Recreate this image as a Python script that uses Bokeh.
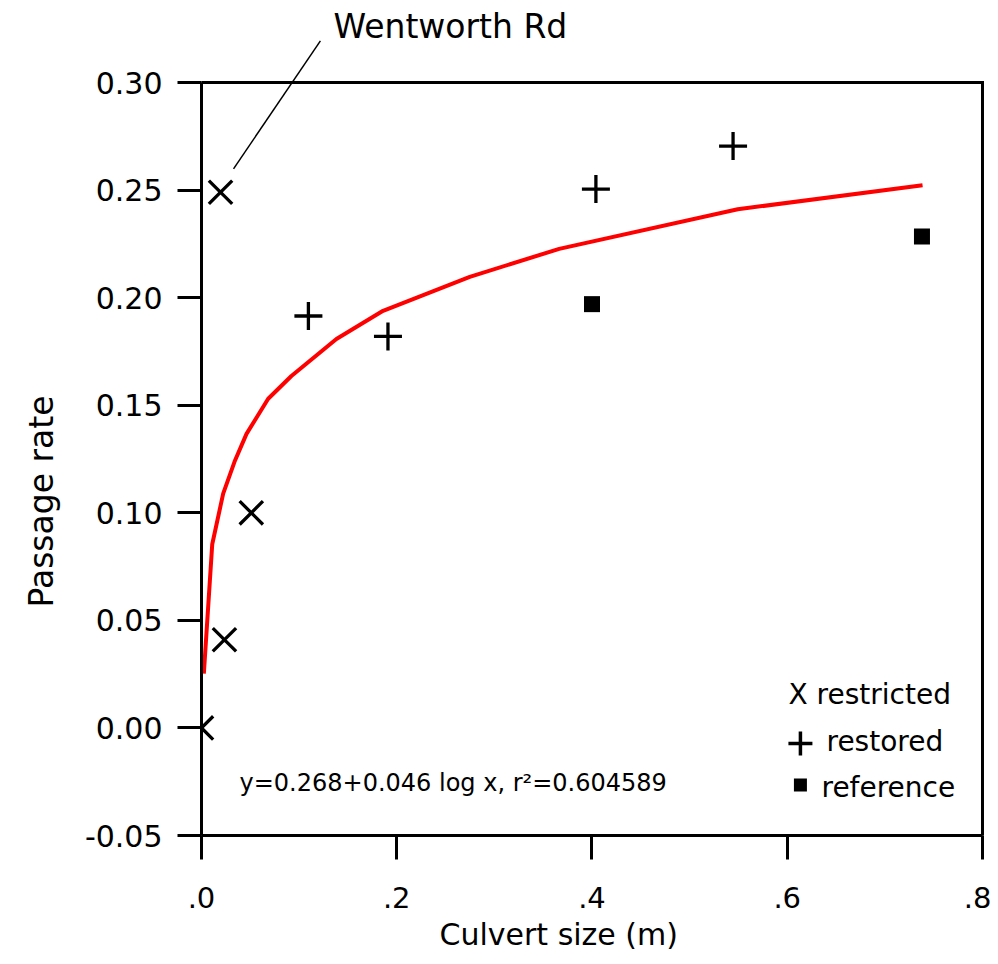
from bokeh.plotting import figure
from bokeh.models import Range1d, FixedTicker, Label, Title
from bokeh.embed import file_html
from bokeh.resources import INLINE

# ---- data ----
restricted_x = [0.0, 0.0235, 0.051, 0.0195]
restricted_y = [0.0, 0.041, 0.100, 0.249]
restored_x = [0.1095, 0.191, 0.404, 0.5445]
restored_y = [0.1915, 0.182, 0.2505, 0.2705]
reference_x = [0.400, 0.738]
reference_y = [0.197, 0.2285]

fit_x = [0.0024, 0.0110, 0.0222, 0.0338, 0.0461, 0.0683, 0.0921, 0.1382,
         0.1860, 0.2748, 0.3664, 0.5493, 0.7386]
fit_y = [0.0252, 0.0854, 0.1089, 0.1237, 0.1367, 0.1530, 0.1636, 0.1808,
         0.1939, 0.2097, 0.2227, 0.2411, 0.2523]

x_ticks = [0.0, 0.2, 0.4, 0.6, 0.8]
x_tick_labels = [".0", ".2", ".4", ".6", ".8"]
y_ticks = [-0.05, 0.0, 0.05, 0.10, 0.15, 0.20, 0.25, 0.30]
y_tick_labels = ["-0.05", "0.00", "0.05", "0.10", "0.15", "0.20", "0.25", "0.30"]

x_limits = (0.0, 0.8)
y_limits = (-0.05, 0.30)

x_title = "Culvert size (m)"
y_title = "Passage rate"
equation = "y=0.268+0.046 log x, r\u00b2=0.604589"
callout = "Wentworth Rd"
callout_from = (0.0328, 0.2599)
callout_to = (0.1218, 0.3194)
legend_labels = ["X restricted", "restored", "reference"]
legend_key_x = 0.6135
legend_key_y = [-0.0072, -0.0265]

FONT = "DejaVu Sans"

# the frame reaches a little above / right of the axis box so that the
# call-out line and its label can be drawn outside the box
p = figure(frame_width=789, frame_height=825,
           min_border_left=200, min_border_top=10,
           min_border_right=1, min_border_bottom=121,
           x_range=Range1d(x_limits[0], 0.8082),
           y_range=Range1d(y_limits[0], 0.3335),
           output_backend="svg", toolbar_location=None,
           background_fill_color="white", border_fill_color="white")

p.xgrid.visible = False
p.ygrid.visible = False
p.outline_line_color = None

p.xaxis.bounds = x_limits
p.yaxis.bounds = y_limits
p.xaxis.ticker = FixedTicker(ticks=x_ticks)
p.yaxis.ticker = FixedTicker(ticks=y_ticks)
p.xaxis.major_label_overrides = dict(zip(x_ticks, x_tick_labels))
p.yaxis.major_label_overrides = dict(zip(y_ticks, y_tick_labels))

for ax in (p.xaxis, p.yaxis):
    ax.axis_line_width = 3
    ax.axis_line_color = "black"
    ax.major_tick_line_width = 3
    ax.major_tick_line_color = "black"
    ax.major_tick_out = 24
    ax.major_tick_in = 0
    ax.minor_tick_out = 0
    ax.minor_tick_in = 0
    ax.major_label_text_font = FONT
    ax.major_label_text_color = "black"
p.xaxis.major_label_text_font_size = "29px"
p.yaxis.major_label_text_font_size = "30px"
p.yaxis.major_label_standoff = 15
p.xaxis.major_label_standoff = 27

# top and right edges of the axis box
p.segment(x0=[x_limits[0], x_limits[1]], y0=[y_limits[1], y_limits[0]],
          x1=[x_limits[1], x_limits[1]], y1=[y_limits[1], y_limits[1]],
          line_color="black", line_width=3, line_cap="square")

# fitted curve
p.line(fit_x, fit_y, line_color="#ff0000", line_width=4)

# data
p.scatter(restricted_x, restricted_y, marker="x", size=33,
          line_color="black", line_width=3.3)
p.scatter(restored_x, restored_y, marker="cross", size=28,
          line_color="black", line_width=3.3)
p.scatter(reference_x, reference_y, marker="square", size=16,
          fill_color="black", line_color="black", line_width=0)

# legend keys
p.scatter([legend_key_x], [legend_key_y[0]], marker="cross", size=24,
          line_color="black", line_width=3.5)
p.scatter([legend_key_x], [legend_key_y[1]], marker="square", size=13,
          fill_color="black", line_color="black", line_width=0)

# legend texts (screen units from the frame's bottom-left corner)
for txt, lx, ly in ((legend_labels[0], 587, 141),
                    (legend_labels[1], 625, 94),
                    (legend_labels[2], 620, 48)):
    p.add_layout(Label(x=lx, y=ly, x_units="screen", y_units="screen",
                       text=txt, text_font=FONT, text_font_size="28px",
                       text_color="black", text_baseline="alphabetic"))

# equation
p.add_layout(Label(x=38, y=53, x_units="screen", y_units="screen",
                   text=equation, text_font=FONT, text_font_size="24px",
                   text_color="black", text_baseline="alphabetic"))

# call-out
p.segment(x0=[callout_from[0]], y0=[callout_from[1]],
          x1=[callout_to[0]], y1=[callout_to[1]],
          line_color="black", line_width=1.5)
p.add_layout(Label(x=132, y=809, x_units="screen", y_units="screen",
                   text=callout, text_font=FONT, text_font_size="33px",
                   text_color="black", text_baseline="alphabetic"))

# axis titles
p.add_layout(Title(text=x_title, align="left", offset=238,
                   text_font=FONT, text_font_size="30px",
                   text_font_style="normal", text_color="black",
                   standoff=8), "below")
p.add_layout(Title(text=y_title, align="left", offset=228,
                   vertical_align="middle",
                   text_font=FONT, text_font_size="33px",
                   text_font_style="normal", text_color="black",
                   standoff=40), "left")

open("out.html", "w").write(file_html(p, INLINE))
